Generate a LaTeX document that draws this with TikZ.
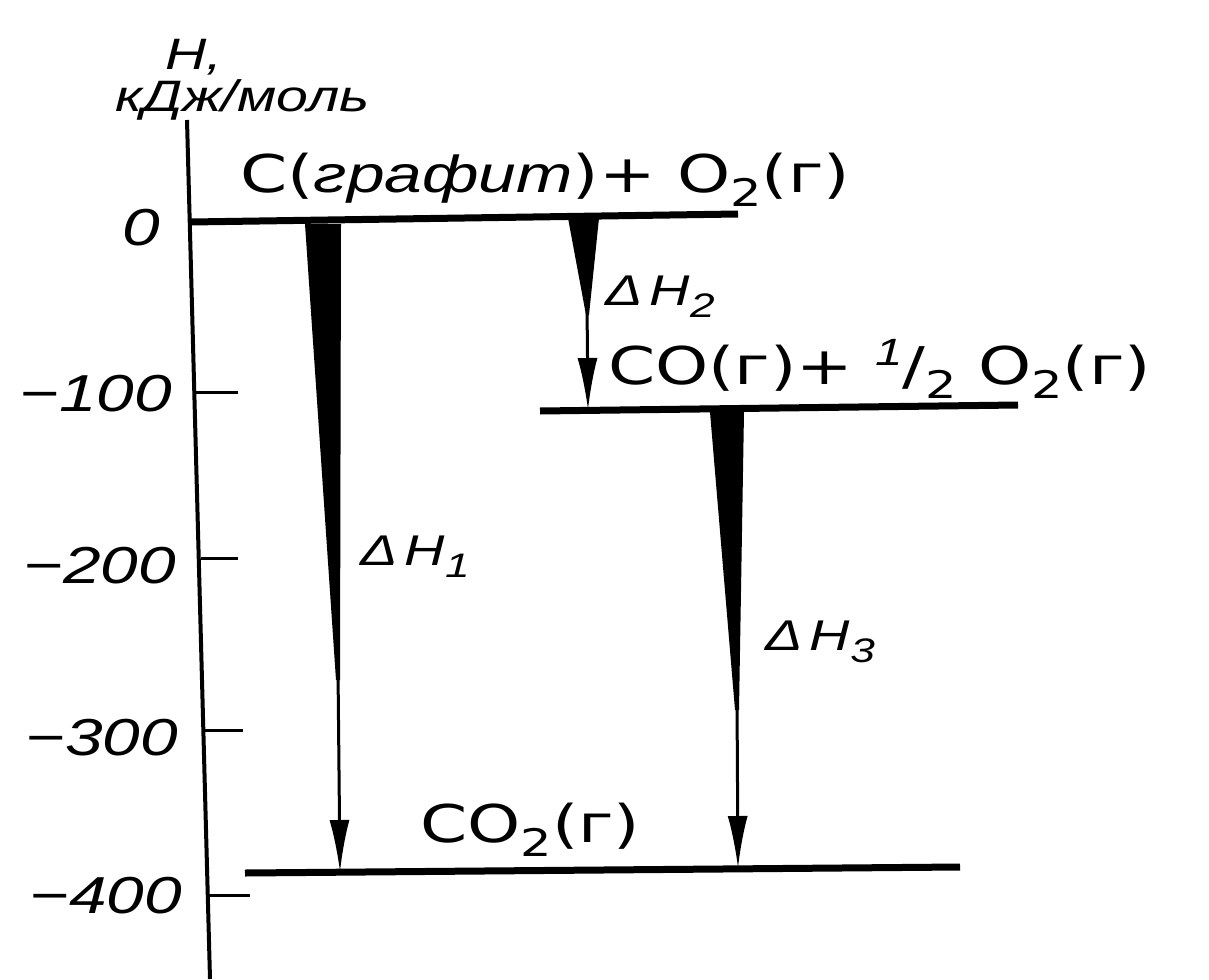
\documentclass[tikz,border=0pt]{standalone}
\usepackage{fontspec}
\setmainfont{DejaVu Sans}[FakeStretch=1.3]
\newfontfamily\labfont{Liberation Sans}[FakeStretch=1.3]
\usetikzlibrary{arrows.meta}
\newcommand{\sbs}[1]{\raisebox{-0.28em}{\fontsize{38}{40}\selectfont #1}}
\tikzset{
  axisline/.style={line width=4pt, line cap=butt},
  tickline/.style={line width=3pt},
  levelline/.style={line width=7pt},
  wedge/.style={fill=black},
  stem/.style={line width=3pt, -{Latex[length=52pt,width=20pt]}},
  numlab/.style={font=\labfont\itshape\fontsize{52}{56}\selectfont, inner sep=0pt},
  unitlab/.style={font=\labfont\itshape\fontsize{44}{48}\selectfont, inner sep=0pt},
  dhlab/.style={font=\labfont\itshape\fontsize{43}{48}\selectfont, inner sep=0pt},
  chem/.style={font=\fontsize{52}{58}\selectfont, inner sep=0pt},
}
\begin{document}
\begin{tikzpicture}[x=1pt,y=-1pt]
\useasboundingbox (0,0) rectangle (1209,979);
% axis
\coordinate (axtop) at (187,120);
\coordinate (axbot) at (210,979);
\draw[axisline] (axtop) -- (axbot);
% ticks
\coordinate (t1a) at (196,392); \coordinate (t1b) at (238,392);
\coordinate (t2a) at (201,558); \coordinate (t2b) at (238,558);
\coordinate (t3a) at (205,730); \coordinate (t3b) at (243,730);
\coordinate (t4a) at (209,895); \coordinate (t4b) at (250,895);
\draw[tickline] (t1a) -- (t1b);
\draw[tickline] (t2a) -- (t2b);
\draw[tickline] (t3a) -- (t3b);
\draw[tickline] (t4a) -- (t4b);
% levels
\coordinate (l0a) at (191,222); \coordinate (l0b) at (738,214);
\coordinate (l1a) at (540,411); \coordinate (l1b) at (1018,405);
\coordinate (l2a) at (245,873); \coordinate (l2b) at (960,867);
\draw[levelline] (l0a) -- (l0b);
\draw[levelline] (l1a) -- (l1b);
\draw[levelline] (l2a) -- (l2b);
% arrow dH1
\fill[wedge] (305,224) -- (341,224) -- (340,680) -- (336,680) -- cycle;
\coordinate (a1s) at (338,670); \coordinate (a1e) at (340,872);
\draw[stem] (a1s) -- (a1e);
% arrow dH2
\fill[wedge] (568,218) -- (599,218) -- (589,315) -- (586,315) -- cycle;
\coordinate (a2s) at (587,305); \coordinate (a2e) at (588,410);
\draw[stem] (a2s) -- (a2e);
% arrow dH3
\fill[wedge] (710,412) -- (744,412) -- (739,710) -- (735,710) -- cycle;
\coordinate (a3s) at (737,700); \coordinate (a3e) at (738,868);
\draw[stem] (a3s) -- (a3e);
% axis labels
\node[unitlab, anchor=base west] (hlab) at (165,70) {H,};
\node[unitlab, anchor=base west] (ulab) at (115,112) {кДж/моль};
\node[numlab, anchor=base east] (n0) at (160,245) {0};
\node[numlab, anchor=base east] (n1) at (172,411) {−100};
\node[numlab, anchor=base east] (n2) at (176,583) {−200};
\node[numlab, anchor=base east] (n3) at (178,755) {−300};
\node[numlab, anchor=base east] (n4) at (182,913) {−400};
% chem labels
\node[chem, anchor=base west] (s0) at (240,192) {C({\labfont\itshape графит})+ O\sbs{2}(г)};
\node[chem, anchor=base west] (s1) at (608,384) {CO(г)+ \raisebox{0.35em}{\labfont\itshape\fontsize{38}{40}\selectfont 1}/\sbs{2} O\sbs{2}(г)};
\node[chem, anchor=base west] (s2) at (420,842) {CO\sbs{2}(г)};
% dH labels
\node[dhlab, anchor=base west] (d2) at (605,305) {Δ\,H\raisebox{-0.3em}{\fontsize{34}{36}\selectfont 2}};
\node[dhlab, anchor=base west] (d1) at (360,565) {Δ\,H\raisebox{-0.3em}{\fontsize{34}{36}\selectfont 1}};
\node[dhlab, anchor=base west] (d3) at (765,650) {Δ\,H\raisebox{-0.3em}{\fontsize{34}{36}\selectfont 3}};
\end{tikzpicture}
\end{document}
